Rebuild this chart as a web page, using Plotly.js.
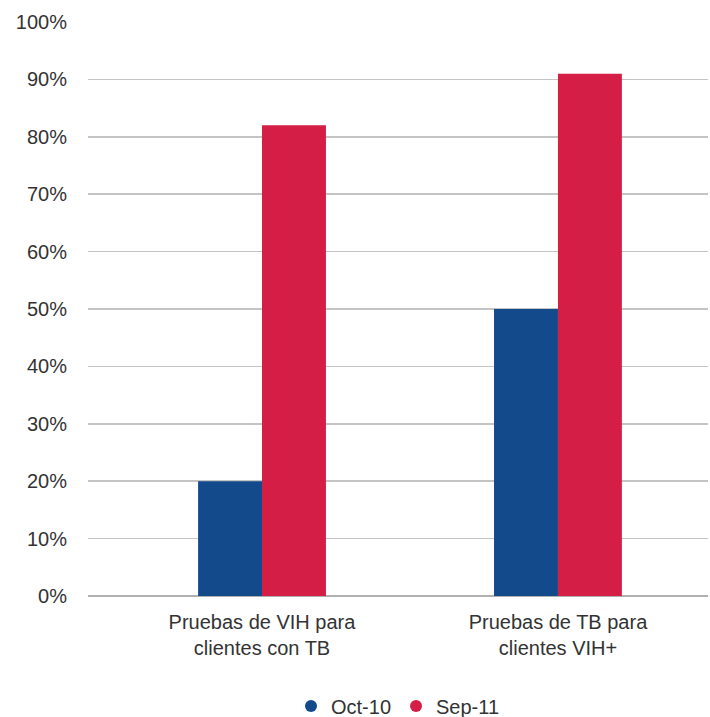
<!DOCTYPE html>
<html><head><meta charset="utf-8">
<script src="https://cdn.plot.ly/plotly-3.0.1.min.js"></script>
<style>html,body{margin:0;padding:0;background:#fff;}#chart{width:710px;height:717px;}</style>
</head><body><div id="chart"></div>
<script>
const categories = ["Pruebas de VIH para<br>clientes con TB", "Pruebas de TB para<br>clientes VIH+"];
const seriesNames = ["Oct-10", "Sep-11"];
const oct10 = [20, 50];
const sep11 = [82, 91];
const yTicks = [0, 10, 20, 30, 40, 50, 60, 70, 80, 90, 100];
const yTickLabels = yTicks.map(v => v + "%");
const colors = ["#124a8c", "#d41e46"];

const font = {family: "Liberation Sans, Arial, sans-serif", size: 20, color: "#333333"};
const traces = [
  {type: "bar", x: categories, y: oct10, name: seriesNames[0], marker: {color: colors[0]}, showlegend: false, hoverinfo: "y"},
  {type: "bar", x: categories, y: sep11, name: seriesNames[1], marker: {color: colors[1]}, showlegend: false, hoverinfo: "y"},
  {type: "scatter", mode: "markers", x: [null], y: [null], name: seriesNames[0], marker: {color: colors[0], size: 17, symbol: "circle"}},
  {type: "scatter", mode: "markers", x: [null], y: [null], name: seriesNames[1], marker: {color: colors[1], size: 17, symbol: "circle"}}
];
const layout = {
  width: 710, height: 717,
  margin: {l: 88, r: 2, t: 22, b: 121, autoexpand: false},
  paper_bgcolor: "#ffffff", plot_bgcolor: "#ffffff",
  font: font,
  barmode: "group", bargap: 0.568, bargroupgap: 0,
  showlegend: true,
  legend: {orientation: "h", x: 0.5, xanchor: "center", y: -0.1916, yanchor: "middle", font: font, itemsizing: "constant", traceorder: "normal"},
  xaxis: {type: "category", range: [-0.588, 1.507], showgrid: false, zeroline: false, showline: false, ticks: "", tickfont: font, ticklabelstandoff: 12, fixedrange: true, automargin: false},
  yaxis: {range: [0, 100], tickvals: yTicks, ticktext: yTickLabels, showgrid: true, gridcolor: "#c4c4c4", gridwidth: 1.5,
          zeroline: true, zerolinecolor: "#b0b0b0", zerolinewidth: 1.5, showline: false, ticks: "", tickfont: font, ticklabelstandoff: 20, fixedrange: true, automargin: false}
};
Plotly.newPlot("chart", traces, layout, {displayModeBar: false, staticPlot: true});
</script></body></html>
